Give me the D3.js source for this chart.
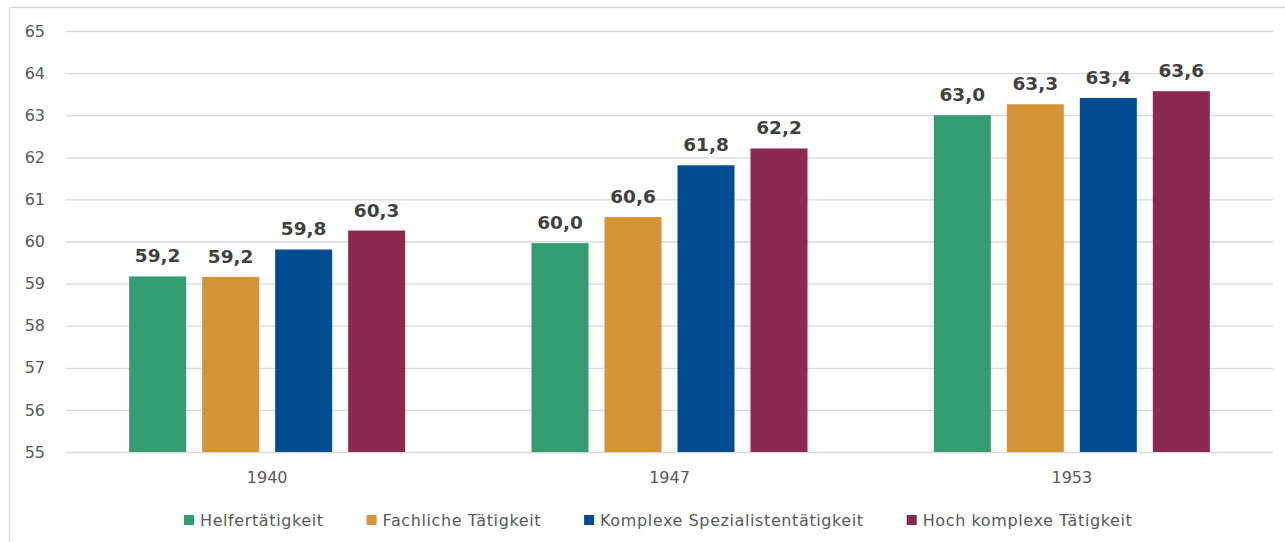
<!DOCTYPE html>
<html><head><meta charset="utf-8">
<script src="https://cdn.jsdelivr.net/npm/d3@7"></script>
<style>html,body{margin:0;padding:0;background:#fff;}svg{display:block;}</style>
</head><body>
<svg id="c" width="1285" height="542"></svg>
<script>
const years = ["1940", "1947", "1953"];
const seriesNames = ["Helfertätigkeit", "Fachliche Tätigkeit", "Komplexe Spezialistentätigkeit", "Hoch komplexe Tätigkeit"];
const seriesColors = ["#339c72", "#d59438", "#004c91", "#8b2a4e"];
const helfer = [59.17, 59.96, 63.0];
const fachlich = [59.16, 60.58, 63.26];
const komplex = [59.81, 61.81, 63.41];
const hochKomplex = [60.26, 62.21, 63.57];
const yTicks = [55, 56, 57, 58, 59, 60, 61, 62, 63, 64, 65];

const seriesValues = [helfer, fachlich, komplex, hochKomplex];
const svg = d3.select("#c");
const m = {left: 66, right: 1273, top: 31, bottom: 452};

// outer frame
svg.append("path").attr("d", `M9.5,542 L9.5,7.5 L1290,7.5`).attr("fill", "none").attr("stroke", "#d9d9d9").attr("stroke-width", 1.5);

const y = d3.scaleLinear().domain([55, 65]).range([m.bottom, m.top]);
const x0 = d3.scaleBand().domain(years).range([m.left, m.right]).paddingInner(0.314).paddingOuter(0.157);
const x1 = d3.scaleBand().domain(d3.range(seriesNames.length)).range([0, x0.bandwidth()]).paddingInner(0.219).paddingOuter(0);

// gridlines
const yAxis = d3.axisLeft(y).tickValues(yTicks).tickSize(-(m.right - m.left)).tickPadding(21).tickFormat(d3.format("d"));
const ga = svg.append("g").attr("transform", `translate(${m.left},0)`).call(yAxis);
ga.select(".domain").remove();
ga.selectAll(".tick line").attr("stroke", "#d9d9d9").attr("stroke-width", 1.3);
ga.selectAll(".tick text").attr("fill", "#595959").style("font-family", "DejaVu Sans").style("font-size", "16px");

// bars
const fmt = v => v.toFixed(1).replace(".", ",");
seriesValues.forEach((vals, si) => {
  const g = svg.append("g");
  g.selectAll("rect").data(vals).join("rect")
    .attr("x", (d, i) => x0(years[i]) + x1(si))
    .attr("y", d => y(d))
    .attr("width", x1.bandwidth())
    .attr("height", d => y(55) - y(d))
    .attr("fill", seriesColors[si]);
  g.selectAll("text").data(vals).join("text")
    .attr("x", (d, i) => x0(years[i]) + x1(si) + x1.bandwidth() / 2)
    .attr("y", d => y(d) - 14)
    .attr("text-anchor", "middle")
    .attr("fill", "#404040")
    .style("font-family", "DejaVu Sans").style("font-weight", "bold").style("font-size", "18.5px")
    .text(d => fmt(d));
});

// x axis labels
const xAxis = d3.axisBottom(x0).tickSize(0).tickPadding(20);
const gx = svg.append("g").attr("transform", `translate(0,${m.bottom})`).call(xAxis);
gx.select(".domain").remove();
gx.selectAll(".tick text").attr("fill", "#595959").style("font-family", "DejaVu Sans").style("font-size", "16px");

// legend
const lg = svg.append("g");
const items = lg.selectAll("g").data(seriesNames).join("g");
items.append("rect").attr("width", 10).attr("height", 10).attr("y", 515).attr("fill", (d, i) => seriesColors[i]);
items.append("text").attr("x", 16).attr("y", 526).attr("fill", "#595959")
  .style("font-family", "DejaVu Sans").style("font-size", "16px").style("letter-spacing", "0.6px").text(d => d);
let cx = 184;
items.each(function() {
  const t = d3.select(this).select("text").node().getComputedTextLength();
  d3.select(this).attr("transform", `translate(${cx},0)`);
  cx += 16 + t + 43;
});
</script>
</body></html>
